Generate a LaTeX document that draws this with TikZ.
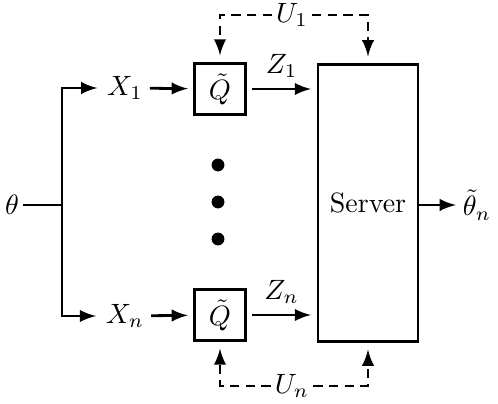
\documentclass[tikz,border=0pt]{standalone}
\usepackage{amsmath}
\usepackage{amsfonts}
\usepackage{tikz}
\usetikzlibrary{positioning,arrows}

\begin{document}
\begin{tikzpicture}[x=0.358pt,y=-0.358pt,>=latex,line width=1pt]
\tikzstyle{every node}+=[inner sep=1pt]
\tikzstyle{quant}=[draw,minimum width=18pt,minimum height=18pt]
\tikzstyle{shared}=[->,dash pattern=on 3.4pt off 2.2pt,shorten >=2.5pt]
\useasboundingbox (0,0) rectangle (498,404);
% inputs
\node (theta) at (12,205) {$\theta$};
\coordinate (split) at (62,205);
\node (x1) at (125,88) {$X_1$};
\node (xn) at (125,316) {$X_n$};
% quantizers and server
\node [quant] (q1) at (220,89) {$\tilde{Q}$};
\node [quant] (qn) at (220,315) {$\tilde{Q}$};
\node [draw,minimum width=35.8pt,minimum height=99pt] (srv) at (368,203) {Server};
\node (out) at (477,205) {$\tilde{\theta}_n$};
\fill (218,165) circle (2.3pt);
\fill (218,202) circle (2.3pt);
\fill (218,239) circle (2.3pt);
% connections
\draw (theta) -- (split);
\draw [->,shorten >=2pt] (split) |- (x1.west);
\draw [->,shorten >=2pt] (split) |- (xn.west);
\draw [->,shorten <=1pt,shorten >=2pt] (x1) -- (q1);
\draw [->,shorten <=1pt,shorten >=2pt] (xn) -- (qn);
\draw [->,shorten <=2pt,shorten >=2pt] (q1) -- node [above=2.5pt] {$Z_1$} (q1 -| srv.west);
\draw [->,shorten <=2pt,shorten >=2pt] (qn) -- node [above=2.5pt] {$Z_n$} (qn -| srv.west);
\draw [->,shorten >=1pt] (srv.east |- out) -- (out);
% common randomness
\node (u1) at (292,15) {$U_1$};
\node (un) at (292,386) {$U_n$};
\draw [shared] (u1) -| (q1.north);
\draw [shared] (u1) -| (srv.north);
\draw [shared] (un) -| (qn.south);
\draw [shared] (un) -| (srv.south);
\end{tikzpicture}
\end{document}
